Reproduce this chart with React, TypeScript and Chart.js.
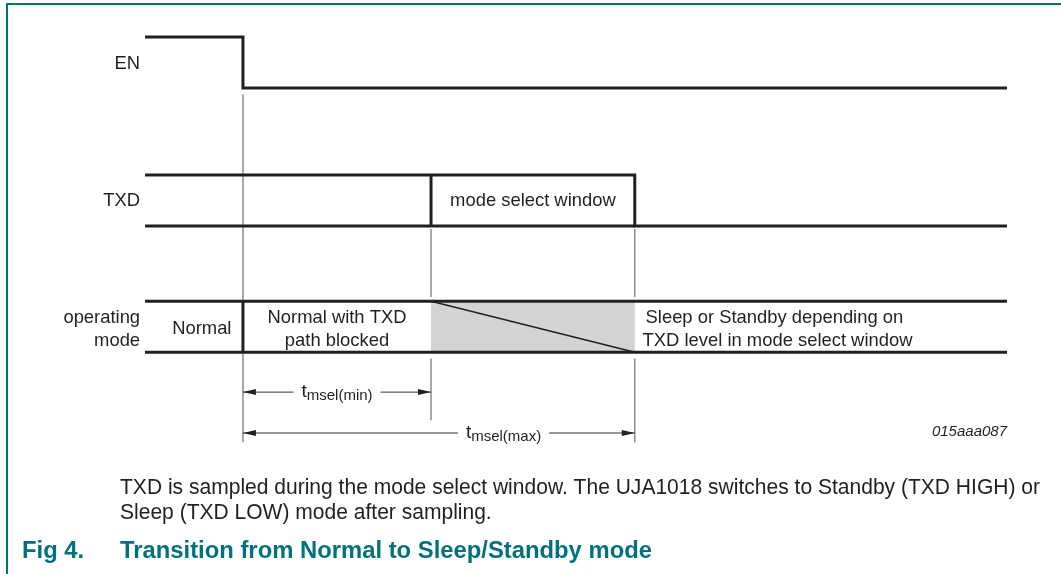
import React, { useEffect, useRef } from "react";
import { Chart, registerables } from "chart.js";

Chart.register(...registerables);

// ---------- data (time in arbitrary units, EN falls at t = 0) ----------
const T_START = -10;
const T_EN_FALL = 0;
const T_MSEL_MIN = 19.2;
const T_MSEL_MAX = 40;
const T_END = 78;

const EN_TIMES = [T_START, T_EN_FALL, T_EN_FALL, T_END];
const EN_LEVELS = [1, 1, 0, 0];

const TXD_TOP_TIMES = [T_START, T_MSEL_MAX, T_MSEL_MAX, T_END];
const TXD_TOP_LEVELS = [1, 1, 0, 0];
const TXD_BOTTOM_TIMES = [T_START, T_MSEL_MAX];
const TXD_BOTTOM_LEVELS = [0, 0];
const TXD_EDGE_TIMES = [T_MSEL_MIN, T_MSEL_MIN];
const TXD_EDGE_LEVELS = [0, 1];

const MODE_TIMES = [T_START, T_END];
const MODE_SWITCH_TIMES = [T_EN_FALL, T_EN_FALL];
const MODE_SWITCH_LEVELS = [0, 1];
const WINDOW_TIMES = [T_MSEL_MIN, T_MSEL_MAX, T_MSEL_MAX, T_MSEL_MIN];
const WINDOW_LEVELS = [1, 1, 0, 0];
const DIAGONAL_TIMES = [T_MSEL_MIN, T_MSEL_MAX];
const DIAGONAL_LEVELS = [1, 0];

const SIGNAL_LABELS = ["EN", "TXD"];
const MODE_AXIS_LABEL = ["operating", "mode"];
const MODE_NORMAL = "Normal";
const MODE_BLOCKED = ["Normal with TXD", "path blocked"];
const MODE_AFTER = ["Sleep or Standby depending on", "TXD level in mode select window"];
const TXD_WINDOW_LABEL = "mode select window";
const TIMING_SUBS = ["msel(min)", "msel(max)"];
const TIMING_ENDS = [T_MSEL_MIN, T_MSEL_MAX];
const FIGURE_ID = "015aaa087";
const NOTE_LINES = [
  "TXD is sampled during the mode select window. The UJA1018 switches to Standby (TXD HIGH) or",
  "Sleep (TXD LOW) mode after sampling.",
];
const CAPTION_NUM = "Fig 4.";
const CAPTION_TITLE = "Transition from Normal to Sleep/Standby mode";

// ---------- layout (lanes on the y scale) ----------
const EN_BASE = 6.75;
const TXD_BASE = 4.05;
const MODE_BASE = 1.58;
const ARROW_LANES = [0.8, 0];
const TIMING_LABEL_T = [9.6, 26.6];

const INK = "#231f20";
const GUIDE = "#8c8c8c";
const TEAL = "#00717f";
const FONT = '"Liberation Sans", Arial, Helvetica, sans-serif';

const pts = (times: number[], levels: number[], base: number) =>
  times.map((t, i) => ({ x: t, y: base + levels[i] }));

const lineDs = (data: any[], width: number, color: string, extra: any = {}) => ({
  data,
  borderColor: color,
  borderWidth: width,
  pointRadius: 0,
  fill: false,
  tension: 0,
  clip: false as any,
  borderJoinStyle: "miter",
  borderCapStyle: "butt",
  ...extra,
});

const GUIDES = [
  { t: T_EN_FALL, from: EN_BASE - 0.12, to: -0.18 },
  { t: T_MSEL_MIN, from: TXD_BASE - 0.06, to: MODE_BASE + 1.08 },
  { t: T_MSEL_MIN, from: MODE_BASE - 0.12, to: 0.25 },
  { t: T_MSEL_MAX, from: TXD_BASE - 0.06, to: MODE_BASE + 1.08 },
  { t: T_MSEL_MAX, from: MODE_BASE - 0.12, to: -0.18 },
];

function fillFit(ctx: CanvasRenderingContext2D, text: string, x: number, y: number, scale: number) {
  ctx.save();
  ctx.translate(x, y);
  ctx.scale(scale, 1);
  ctx.fillText(text, 0, 0);
  ctx.restore();
}

const annotatePlugin = {
  id: "annotate",
  afterDatasetsDraw(chart: any) {
    const ctx: CanvasRenderingContext2D = chart.ctx;
    const xs = chart.scales.x;
    const ys = chart.scales.y;
    const X = (t: number) => xs.getPixelForValue(t);
    const Y = (v: number) => ys.getPixelForValue(v);
    ctx.save();

    // frame
    ctx.strokeStyle = TEAL;
    ctx.lineWidth = 2;
    ctx.beginPath();
    ctx.moveTo(7, 574);
    ctx.lineTo(7, 4);
    ctx.lineTo(1061, 4);
    ctx.stroke();

    ctx.fillStyle = INK;
    ctx.textBaseline = "middle";
    ctx.font = `18.4px ${FONT}`;

    const modeMid = MODE_BASE + 0.5;
    const up = 0.18;
    const down = -0.27;

    // signal names
    const nameT = T_START - 0.5;
    ctx.textAlign = "right";
    ctx.fillText(SIGNAL_LABELS[0], X(nameT), Y(EN_BASE + 0.47));
    ctx.fillText(SIGNAL_LABELS[1], X(nameT), Y(TXD_BASE + 0.5));
    ctx.fillText(MODE_AXIS_LABEL[0], X(nameT), Y(modeMid + up));
    ctx.fillText(MODE_AXIS_LABEL[1], X(nameT), Y(modeMid + down));

    // mode segments
    ctx.textAlign = "center";
    ctx.fillText(MODE_NORMAL, X(-4.2), Y(modeMid - 0.04));
    const midBlocked = (T_EN_FALL + T_MSEL_MIN) / 2;
    ctx.fillText(MODE_BLOCKED[0], X(midBlocked), Y(modeMid + up));
    ctx.fillText(MODE_BLOCKED[1], X(midBlocked), Y(modeMid + down));
    ctx.fillText(TXD_WINDOW_LABEL, X((T_MSEL_MIN + T_MSEL_MAX) / 2), Y(TXD_BASE + 0.5));
    ctx.textAlign = "left";
    ctx.fillText(MODE_AFTER[0], X(T_MSEL_MAX + 1.1), Y(modeMid + up));
    ctx.fillText(MODE_AFTER[1], X(T_MSEL_MAX + 0.8), Y(modeMid + down));

    // timing arrows: heads + labels
    ctx.fillStyle = INK;
    ARROW_LANES.forEach((lane, i) => {
      const y = Y(lane);
      const x0 = X(T_EN_FALL);
      const x1 = X(TIMING_ENDS[i]);
      ctx.beginPath();
      ctx.moveTo(x0, y);
      ctx.lineTo(x0 + 13, y - 3);
      ctx.lineTo(x0 + 13, y + 3);
      ctx.closePath();
      ctx.fill();
      ctx.beginPath();
      ctx.moveTo(x1, y);
      ctx.lineTo(x1 - 13, y - 3);
      ctx.lineTo(x1 - 13, y + 3);
      ctx.closePath();
      ctx.fill();

      ctx.textBaseline = "alphabetic";
      ctx.font = `19px ${FONT}`;
      const wT = ctx.measureText("t").width;
      ctx.font = `15px ${FONT}`;
      const wS = ctx.measureText(TIMING_SUBS[i]).width;
      const w = wT + wS;
      const cx = X(TIMING_LABEL_T[i]);
      const left = cx - w / 2;
      ctx.fillStyle = "#ffffff";
      ctx.fillRect(left - 8, y - 3, w + 16, 6);
      ctx.fillStyle = INK;
      ctx.textAlign = "left";
      ctx.font = `19px ${FONT}`;
      ctx.fillText("t", left, y + 5);
      ctx.font = `15px ${FONT}`;
      ctx.fillText(TIMING_SUBS[i], left + wT, y + 8);
    });

    // figure id
    ctx.textBaseline = "middle";
    ctx.textAlign = "right";
    ctx.font = `italic 15px ${FONT}`;
    ctx.fillText(FIGURE_ID, X(T_END), Y(0.02));

    // note text
    ctx.textAlign = "left";
    ctx.font = `22px ${FONT}`;
    const noteScale = 920 / ctx.measureText(NOTE_LINES[0]).width;
    fillFit(ctx, NOTE_LINES[0], 120, 488, noteScale);
    fillFit(ctx, NOTE_LINES[1], 120, 513, noteScale);

    // caption
    ctx.fillStyle = TEAL;
    ctx.font = `bold 23px ${FONT}`;
    const capScale = 532 / ctx.measureText(CAPTION_TITLE).width;
    fillFit(ctx, CAPTION_NUM, 22, 552, capScale);
    fillFit(ctx, CAPTION_TITLE, 120, 552, capScale);

    ctx.restore();
  },
};

export default function App() {
  const ref = useRef<HTMLCanvasElement>(null);
  useEffect(() => {
    if (!ref.current) return;
    const datasets: any[] = [
      lineDs(pts(EN_TIMES, EN_LEVELS, EN_BASE), 3, INK),
      lineDs(pts(TXD_TOP_TIMES, TXD_TOP_LEVELS, TXD_BASE), 3, INK),
      lineDs(pts(TXD_BOTTOM_TIMES, TXD_BOTTOM_LEVELS, TXD_BASE), 3, INK),
      lineDs(pts(TXD_EDGE_TIMES, TXD_EDGE_LEVELS, TXD_BASE), 3, INK),
      lineDs(pts(MODE_TIMES, [1, 1], MODE_BASE), 3, INK),
      lineDs(pts(MODE_TIMES, [0, 0], MODE_BASE), 3, INK),
      lineDs(pts(MODE_SWITCH_TIMES, MODE_SWITCH_LEVELS, MODE_BASE), 3, INK),
      lineDs(pts(DIAGONAL_TIMES, DIAGONAL_LEVELS, MODE_BASE), 1.5, INK),
      ...ARROW_LANES.map((lane, i) =>
        lineDs(
          [
            { x: T_EN_FALL, y: lane },
            { x: TIMING_ENDS[i], y: lane },
          ],
          1,
          "#333333"
        )
      ),
      ...GUIDES.map((g) =>
        lineDs(
          [
            { x: g.t, y: g.from },
            { x: g.t, y: g.to },
          ],
          1.5,
          GUIDE
        )
      ),
      lineDs(pts(WINDOW_TIMES, WINDOW_LEVELS, MODE_BASE), 0, "rgba(0,0,0,0)", {
        fill: "shape",
        backgroundColor: "#d1d3d4",
      }),
    ];
    const chart = new Chart(ref.current, {
      type: "line",
      data: { datasets },
      options: {
        animation: false,
        responsive: false,
        devicePixelRatio: 1,
        parsing: false as any,
        normalized: true,
        layout: { padding: { left: 145, right: 54, top: 37, bottom: 141 } },
        scales: {
          x: { type: "linear", min: T_START, max: T_END, display: false },
          y: { type: "linear", min: 0, max: 7.75, display: false },
        },
        plugins: {
          legend: { display: false },
          tooltip: { enabled: false },
        },
        events: [],
      },
      plugins: [annotatePlugin],
    });
    return () => chart.destroy();
  }, []);
  return (
    <div style={{ position: "fixed", left: 0, top: 0, width: 1061, height: 574, background: "#ffffff" }}>
      <canvas ref={ref} width={1061} height={574} style={{ display: "block", width: 1061, height: 574 }} />
    </div>
  );
}
